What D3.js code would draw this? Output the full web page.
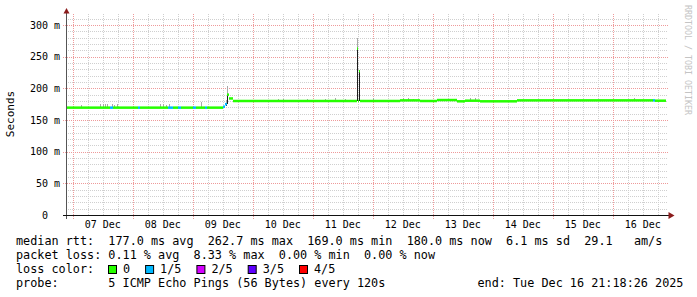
<!DOCTYPE html>
<html>
<head>
<meta charset="utf-8">
<script src="https://cdn.jsdelivr.net/npm/d3@7"></script>
<style>
  body { margin: 0; background: #fff; }
  svg { display: block; }
  text { font-family: 'DejaVu Sans Mono', monospace; fill: #000; }
</style>
</head>
<body>
<div id="chart"></div>
<script>
const startTime = '12-06 21:18';
const endTime = '12-16 21:18';

// median rtt (ms), held from each time until the next one; loss = pings lost of 5
const medianTimes = [
  '12-06 21:18', '12-07 15:00', '12-07 16:12', '12-08 02:00', '12-08 02:48',
  '12-08 14:00', '12-08 16:00', '12-08 18:00', '12-08 19:12', '12-09 00:00',
  '12-09 01:12', '12-09 05:00', '12-09 05:48', '12-09 12:00', '12-09 12:48',
  '12-09 13:36', '12-09 14:24', '12-09 16:00', '12-11 17:36', '12-11 18:00',
  '12-11 18:24', '12-11 18:48', '12-12 11:00', '12-12 19:00', '12-13 01:36',
  '12-13 09:36', '12-13 13:00', '12-13 19:00', '12-14 09:36', '12-16 16:00',
  '12-16 17:00',
];
const medianMs = [
  169.5, 169.5, 169.5, 169.5, 169.5,
  169.5, 169.5, 169.5, 169.5, 169.5,
  169.5, 169.5, 169.5, 171, 175,
  190, 184, 180, 262.7, 180,
  227, 180, 181, 180, 181.5,
  179.5, 180.5, 179.5, 181, 181,
  180.5,
];
const medianLoss = [
  0, 1, 0, 1, 0,
  1, 0, 1, 0, 1,
  0, 1, 0, 1, 1,
  0, 0, 0, 0, 0,
  0, 0, 0, 0, 0,
  0, 0, 0, 0, 1,
  0,
];

// smoke: spread of the pings inside one 24 min step
const smokeTimes = [
  '12-07 03:12', '12-07 11:00', '12-07 12:00', '12-07 12:48', '12-07 13:36',
  '12-07 15:36', '12-07 16:24', '12-07 17:36', '12-08 11:00', '12-08 12:00',
  '12-08 13:12', '12-08 14:24', '12-09 03:12', '12-09 13:12', '12-09 13:36',
  '12-10 10:00', '12-10 12:00', '12-10 21:36', '12-11 05:00', '12-11 09:00',
  '12-11 13:00', '12-11 17:36', '12-11 18:24', '12-12 00:00', '12-12 12:00',
  '12-12 14:00', '12-12 16:00', '12-13 15:00', '12-13 17:00', '12-16 08:24',
];
const smokeLo = [
  170, 170, 170, 170, 170, 170, 170, 170, 170, 170,
  170, 170, 170, 172, 176, 180, 180, 180, 180, 180,
  180, 180, 180, 180, 181, 181, 181, 180, 180, 181,
];
const smokeHi = [
  173, 175, 176, 175, 176, 176, 174, 175, 175, 176,
  174, 175, 178, 182, 204, 183, 183, 183, 183, 184,
  183, 280, 228, 184, 184, 184, 183, 184, 184, 185,
];

const yTicks = [0, 50, 100, 150, 200, 250, 300];
const yTickLabels = ['0  ', '50 m', '100 m', '150 m', '200 m', '250 m', '300 m'];

const lossLabels = ['0', '1/5', '2/5', '3/5', '4/5'];
const lossColors = ['#26ff00', '#00b8ff', '#d400ff', '#5e00ff', '#ff0000'];

const rttStats = [177.0, 262.7, 169.0, 180.0, 6.1];
const amPerSec = 29.1;
const lossStats = [0.11, 8.33, 0.0, 0.0];
const probeText = '5 ICMP Echo Pings (56 Bytes) every 120s';
const endText = 'end: Tue Dec 16 21:18:26 2025';

const parse = (s) => d3.timeParse('%Y-%m-%d %H:%M')('2025-' + s);

const width = 697;
const height = 297;
const plot = { left: 66, right: 666, top: 14, bottom: 215, gridRight: 668 };

const svg = d3
  .select('#chart')
  .append('svg')
  .attr('width', width)
  .attr('height', height);

const x = d3
  .scaleTime()
  .domain([parse(startTime), parse(endTime)])
  .range([plot.left, plot.right]);

const y = d3.scaleLinear().domain([0, 300]).range([215, 25]);
const px = (t) => Math.max(plot.left + 1, Math.round(x(t)));

// grid
const grid = svg.append('g');
d3.range(10, 320, 10)
  .filter((v) => v % 50 !== 0 && y(v) >= plot.top)
  .forEach((v) => {
    grid
      .append('line')
      .attr('x1', plot.left)
      .attr('x2', plot.gridRight)
      .attr('y1', Math.round(y(v)) + 0.5)
      .attr('y2', Math.round(y(v)) + 0.5)
      .attr('stroke', '#cfcfcf')
      .attr('stroke-dasharray', '1,1');
  });

const [t0, t1] = x.domain();
d3.timeHour
  .every(6)
  .range(t0, t1)
  .filter((d) => d.getHours() !== 0)
  .forEach((d) => {
    grid
      .append('line')
      .attr('x1', Math.round(x(d)) + 0.5)
      .attr('x2', Math.round(x(d)) + 0.5)
      .attr('y1', plot.top)
      .attr('y2', plot.bottom)
      .attr('stroke', '#cfcfcf')
      .attr('stroke-dasharray', '1,1');
  });

yTicks.slice(1).forEach((v) => {
  grid
    .append('line')
    .attr('x1', plot.left - 3)
    .attr('x2', plot.gridRight)
    .attr('y1', Math.round(y(v)) + 0.5)
    .attr('y2', Math.round(y(v)) + 0.5)
    .attr('stroke', '#ee9a9a')
    .attr('stroke-dasharray', '1,1');
});

const days = d3.timeDay.range(t0, t1);
days.forEach((d) => {
  grid
    .append('line')
    .attr('x1', Math.round(x(d)) + 0.5)
    .attr('x2', Math.round(x(d)) + 0.5)
    .attr('y1', plot.top)
    .attr('y2', plot.bottom + 4)
    .attr('stroke', '#ee9a9a')
    .attr('stroke-dasharray', '1,1');
});

// smoke
const medianDates = medianTimes.map(parse);
const medianAt = (t) => medianMs[Math.max(0, d3.bisectRight(medianDates, t) - 1)];
const smoke = svg.append('g').attr('shape-rendering', 'crispEdges');
smokeTimes.forEach((s, i) => {
  const t = parse(s);
  const w = Math.max(1, px(d3.timeMinute.offset(t, 24)) - px(t));
  smoke
    .append('rect')
    .attr('x', px(t))
    .attr('width', w)
    .attr('y', y(smokeHi[i]))
    .attr('height', y(smokeLo[i]) - y(smokeHi[i]))
    .attr('fill', '#a8a8a8');
  const m = medianAt(t);
  if (m > smokeLo[i] + 2) {
    smoke
      .append('rect')
      .attr('x', px(t))
      .attr('width', w)
      .attr('y', y(m))
      .attr('height', y(smokeLo[i]) - y(m))
      .attr('fill', '#1e1e1e');
  }
});

// median slabs coloured by loss
svg
  .append('g')
  .selectAll('rect')
  .data(medianDates)
  .join('rect')
  .attr('x', (d) => px(d))
  .attr('width', (d, i) => {
    const next = i < medianDates.length - 1 ? medianDates[i + 1] : t1;
    return Math.max(1, px(next) - px(d));
  })
  .attr('y', (d, i) => y(medianMs[i]) - 1.25)
  .attr('height', 2.5)
  .attr('fill', (d, i) => lossColors[medianLoss[i]]);

// axes
svg
  .append('line')
  .attr('x1', plot.left + 0.5)
  .attr('x2', plot.left + 0.5)
  .attr('y1', 11)
  .attr('y2', plot.bottom + 4)
  .attr('stroke', '#555');
svg
  .append('line')
  .attr('x1', plot.left - 3)
  .attr('x2', 670)
  .attr('y1', plot.bottom + 0.5)
  .attr('y2', plot.bottom + 0.5)
  .attr('stroke', '#111');
svg
  .append('path')
  .attr('d', 'M63.5,13.5L69.5,13.5L66.5,8Z')
  .attr('fill', '#8b1c1c');
svg
  .append('path')
  .attr('d', 'M668.5,212L668.5,219L674.5,215.5Z')
  .attr('fill', '#8b1c1c');

svg
  .append('g')
  .selectAll('text')
  .data(yTicks)
  .join('text')
  .attr('x', 60)
  .attr('y', (d) => y(d) + 3.5)
  .attr('text-anchor', 'end')
  .attr('xml:space', 'preserve')
  .style('white-space', 'pre')
  .style('font-size', '10px')
  .text((d, i) => yTickLabels[i]);

svg
  .append('g')
  .selectAll('text')
  .data(days)
  .join('text')
  .attr('x', (d) => x(d3.timeHour.offset(d, 12)))
  .attr('y', 228)
  .attr('text-anchor', 'middle')
  .style('font-size', '10px')
  .text(d3.timeFormat('%d %b'));

svg
  .append('text')
  .attr('transform', 'translate(14,114) rotate(-90)')
  .attr('text-anchor', 'middle')
  .style('font-size', '11px')
  .text('Seconds');

svg
  .append('text')
  .attr('transform', 'translate(684.5,60) rotate(90)')
  .attr('text-anchor', 'middle')
  .style('font-size', '8.3px')
  .style('fill', '#c4c4c4')
  .text('RRDTOOL / TOBI OETIKER');

// legend
const f1 = d3.format('.1f');
const f2 = d3.format('.2f');
const rows = [
  `median rtt:  ${f1(rttStats[0])} ms avg  ${f1(rttStats[1])} ms max  ${f1(rttStats[2])} ms min  ${f1(rttStats[3])} ms now  ${f1(rttStats[4])} ms sd  ${f1(amPerSec)}   am/s`,
  `packet loss: ${f2(lossStats[0])} % avg  ${f2(lossStats[1])} % max  ${f2(lossStats[2])} % min  ${f2(lossStats[3])} % now`,
  'loss color:',
  `probe:       ${probeText}`,
];
const charW = 7.1;
const legend = svg.append('g').style('font-size', '11.8px');
rows.forEach((r, i) => {
  legend
    .append('text')
    .attr('x', 16)
    .attr('y', 245 + i * 14)
    .attr('xml:space', 'preserve')
    .style('white-space', 'pre')
    .text(r);
});
legend
  .append('text')
  .attr('x', 16 + 65 * charW)
  .attr('y', 287)
  .attr('xml:space', 'preserve')
  .style('white-space', 'pre')
  .text(endText);

let bx = 108;
lossLabels.forEach((l, i) => {
  legend
    .append('rect')
    .attr('x', bx + 0.5)
    .attr('y', 265.5)
    .attr('width', 8)
    .attr('height', 8)
    .attr('fill', lossColors[i])
    .attr('stroke', '#000');
  legend
    .append('text')
    .attr('x', bx + 15)
    .attr('y', 273)
    .text(l);
  bx += 15 + l.length * charW + 15;
});
</script>
</body>
</html>
